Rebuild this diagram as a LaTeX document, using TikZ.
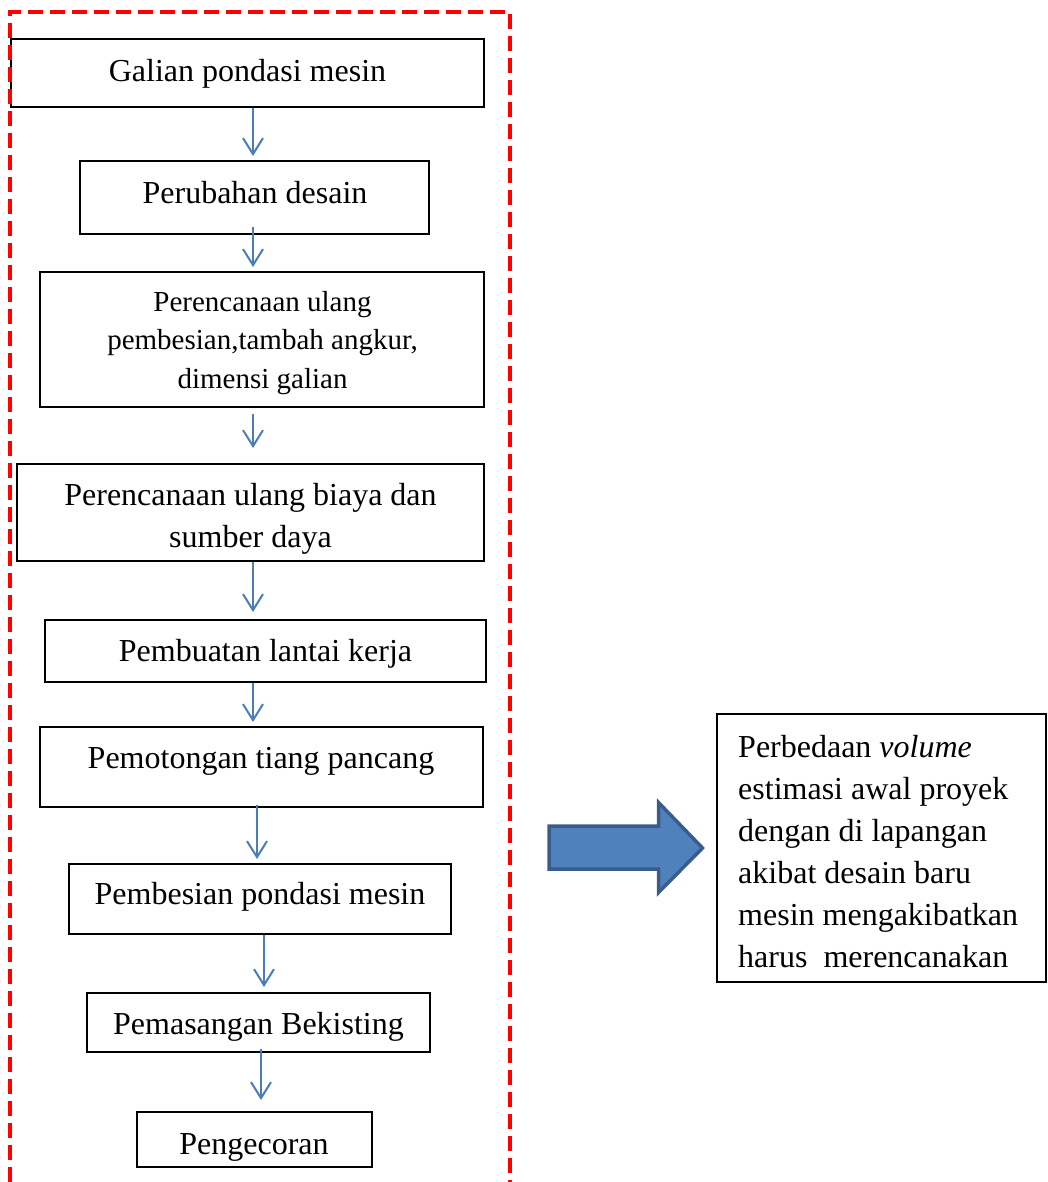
\documentclass[tikz,border=0pt]{standalone}
\usepackage{fontspec}
\setmainfont{Liberation Serif}
\usetikzlibrary{arrows.meta}
\definecolor{flowblue}{HTML}{4A7EBB}
\definecolor{arrowfill}{HTML}{4F81BD}
\definecolor{arrowedge}{HTML}{385D8A}
\begin{document}
\begin{tikzpicture}[x=1pt,y=-1pt,
  stepbox/.style={draw=black, line width=2pt, rectangle, inner sep=0pt},
  label/.style={inner sep=0pt, anchor=base, font=\fontsize{32}{42}\selectfont},
  flow/.style={draw=flowblue, line width=2pt, -{Straight Barb[length=16pt,width=20pt]}},
  frame/.style={draw=red, line width=4pt, dash pattern=on 15pt off 7pt}]
\useasboundingbox (0,0) rectangle (1047,1182);

% process boxes
\node[stepbox, minimum width=473pt, minimum height=68pt]  (b1) at (247.5,73) {};
\node[stepbox, minimum width=349pt, minimum height=73pt]  (b2) at (254.5,197.5) {};
\node[stepbox, minimum width=444pt, minimum height=135pt] (b3) at (262,339.5) {};
\node[stepbox, minimum width=467pt, minimum height=97pt]  (b4) at (250.5,512.5) {};
\node[stepbox, minimum width=441pt, minimum height=62pt]  (b5) at (265.5,651) {};
\node[stepbox, minimum width=443pt, minimum height=80pt]  (b6) at (261.5,767) {};
\node[stepbox, minimum width=382pt, minimum height=70pt]  (b7) at (260,899) {};
\node[stepbox, minimum width=343pt, minimum height=59pt]  (b8) at (258.5,1022.5) {};
\node[stepbox, minimum width=235pt, minimum height=55pt]  (b9) at (254.5,1139.5) {};

% box texts (multi-line texts sit on the baseline of their last line)
\node[label] (t1) at (247.5,81.5) {Galian pondasi mesin};
\node[label] (t2) at (255,203.5) {Perubahan desain};
\node[label, font=\fontsize{29}{38.5}\selectfont, align=center] (t3) at (262.5,388)
  {Perencanaan ulang\\pembesian,tambah angkur,\\dimensi galian};
\node[label, align=center] (t4) at (250.5,547) {Perencanaan ulang biaya dan\\sumber daya};
\node[label] (t5) at (265.5,661.5) {Pembuatan lantai kerja};
\node[label] (t6) at (261,768.5) {Pemotongan tiang pancang};
\node[label] (t7) at (260,904.5) {Pembesian pondasi mesin};
\node[label] (t8) at (258.5,1034.5) {Pemasangan Bekisting};
\node[label] (t9) at (254,1154.5) {Pengecoran};

% connectors
\draw[flow] ([xshift=5.5pt]b1.south) -- ([xshift=-1.5pt,yshift=4pt]b2.north);
\draw[flow] ([xshift=-1.5pt,yshift=8pt]b2.south) -- ([xshift=-9pt,yshift=4pt]b3.north);
\draw[flow] ([xshift=-9pt,yshift=-6pt]b3.south) -- ([xshift=2.5pt,yshift=15pt]b4.north);
\draw[flow] ([xshift=2.5pt]b4.south) -- ([xshift=-12.5pt,yshift=7pt]b5.north);
\draw[flow] ([xshift=-12.5pt]b5.south) -- ([xshift=-8.5pt,yshift=4pt]b6.north);
\draw[flow] ([xshift=-4.5pt,yshift=3pt]b6.south) -- ([xshift=-3pt,yshift=4pt]b7.north);
\draw[flow] ([xshift=4pt]b7.south) -- ([xshift=5.5pt,yshift=5pt]b8.north);
\draw[flow] ([xshift=2.5pt,yshift=4pt]b8.south) -- ([xshift=6.5pt,yshift=11pt]b9.north);

% block arrow towards the note
\filldraw[fill=arrowfill, draw=arrowedge, line width=3.5pt, miter limit=10]
  (549,826) -- (658.5,826) -- (658.5,802.5) -- (702.5,848) -- (658.5,892.5)
  -- (658.5,869) -- (549,869) -- cycle;

% note box
\node[stepbox, minimum width=329pt, minimum height=268pt] (rb) at (881.5,848) {};
\node[label, anchor=base west, align=left] (rt) at (738,967)
  {Perbedaan \textit{volume}\\estimasi awal proyek\\dengan di lapangan\\akibat desain baru\\mesin mengakibatkan\\harus\ \ merencanakan};

% dashed red frame, open at the bottom
\draw[frame] (10,1182) -- (10,12) -- (510,12) -- (510,1182);
\end{tikzpicture}
\end{document}
